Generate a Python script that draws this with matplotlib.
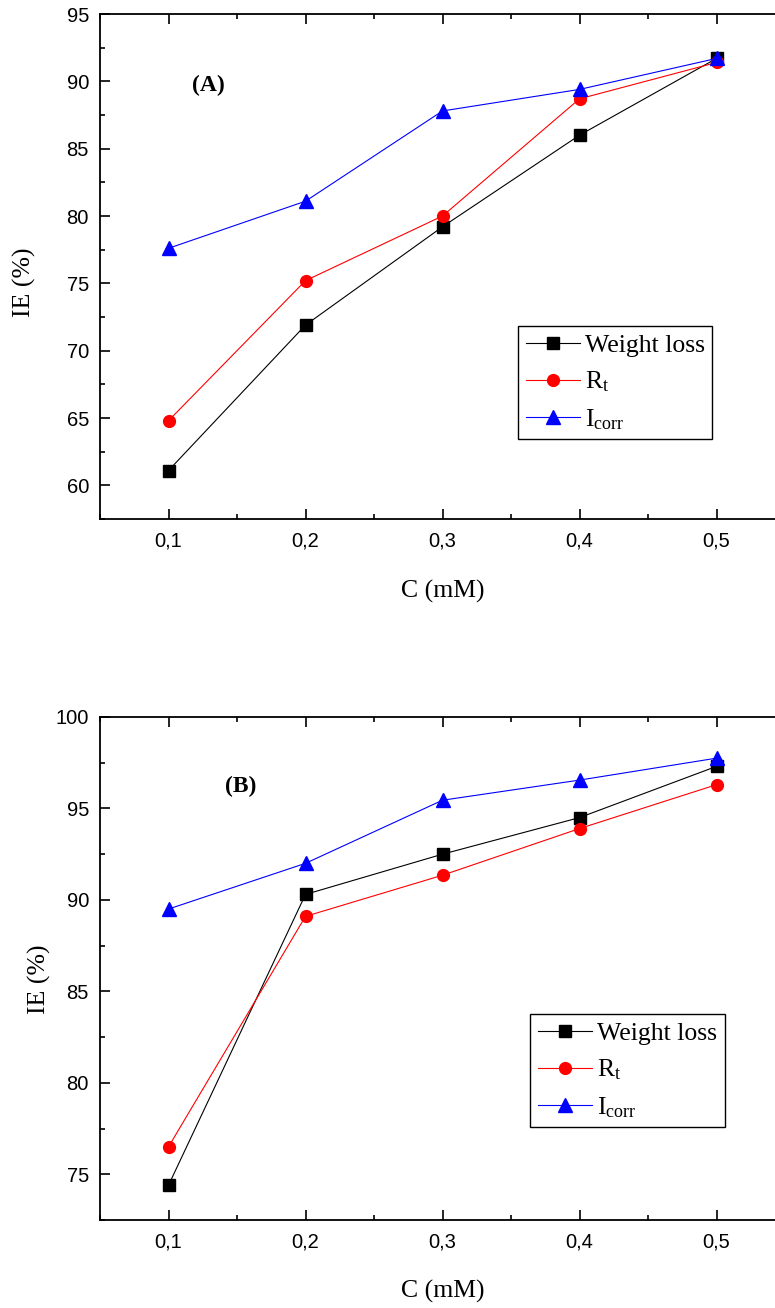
import matplotlib
matplotlib.use('Agg')
import matplotlib.pyplot as plt
from matplotlib.ticker import MultipleLocator

conc = [0.1, 0.2, 0.3, 0.4, 0.5]
conc_labels = ['0,1', '0,2', '0,3', '0,4', '0,5']

# panel (A)
wl_a = [61.1, 71.9, 79.2, 86.0, 91.7]
rt_a = [64.8, 75.2, 80.0, 88.7, 91.4]
icorr_a = [77.6, 81.1, 87.8, 89.4, 91.7]

# panel (B)
wl_b = [74.4, 90.3, 92.5, 94.5, 97.3]
rt_b = [76.5, 89.1, 91.35, 93.9, 96.3]
icorr_b = [89.5, 92.0, 95.45, 96.55, 97.75]

series_labels = ['Weight loss', r'$\mathregular{R_t}$', r'$\mathregular{I_{corr}}$']

plt.rcParams['mathtext.fontset'] = 'custom'
plt.rcParams['mathtext.rm'] = 'Liberation Serif'
plt.rcParams['mathtext.it'] = 'Liberation Serif:italic'

SERIF = 'Liberation Serif'
SANS = 'Liberation Sans'


def draw_panel(ax, wl, rt, icorr, ylim, yticks, tag, tag_pos, leg_pos, ylab_pos, xlab_y):
    ax.plot(conc, wl, '-s', color='black', lw=0.8, ms=8, label=series_labels[0])
    ax.plot(conc, rt, '-o', color='red', lw=0.8, ms=8.5, label=series_labels[1])
    ax.plot(conc, icorr, '-^', color='blue', lw=0.8, ms=10, label=series_labels[2])

    ax.set_xlim(0.05, 0.55)
    ax.set_ylim(*ylim)
    ax.set_xticks(conc)
    ax.set_xticklabels(conc_labels)
    ax.set_yticks(yticks)
    ax.xaxis.set_minor_locator(MultipleLocator(0.05))
    ax.yaxis.set_minor_locator(MultipleLocator(2.5))
    ax.tick_params(which='both', direction='in', top=True, right=True, width=1.2)
    ax.tick_params(which='major', length=7.2)
    ax.tick_params(which='minor', length=3.6)
    ax.tick_params(axis='x', which='major', pad=9)
    ax.tick_params(axis='y', which='major', pad=8)
    for lab in ax.get_xticklabels() + ax.get_yticklabels():
        lab.set_fontfamily(SANS)
        lab.set_fontsize(14.5)
    for sp in ax.spines.values():
        sp.set_linewidth(1.3)

    ax.set_xlabel('C (mM)', fontfamily=SERIF, fontsize=18.5)
    ax.set_ylabel('IE (%)', fontfamily=SERIF, fontsize=18.5)
    ax.xaxis.set_label_coords(0.5, xlab_y)
    ax.yaxis.set_label_coords(*ylab_pos)

    ax.text(tag_pos[0], tag_pos[1], tag, transform=ax.transAxes, ha='center', va='center',
            fontfamily=SERIF, fontweight='bold', fontsize=17)

    leg = ax.legend(loc='upper left', bbox_to_anchor=leg_pos, borderaxespad=0,
                    prop={'family': SERIF, 'size': 18.5}, fancybox=False, framealpha=1,
                    edgecolor='black', handlelength=2.1, handletextpad=0.2,
                    borderpad=0.3, labelspacing=0.5)
    leg.get_frame().set_linewidth(1.0)


def main():
    fig = plt.figure(figsize=(7.75, 13.08), dpi=100)
    ax_a = fig.add_axes([100 / 775, 1 - 519 / 1308, 685 / 775, 505 / 1308])
    ax_b = fig.add_axes([100 / 775, 1 - 1220 / 1308, 685 / 775, 503 / 1308])

    draw_panel(ax_a, wl_a, rt_a, icorr_a, (57.5, 95), [60, 65, 70, 75, 80, 85, 90, 95],
               '(A)', (0.158, 0.859), (0.610, 0.382), (-0.093, 0.469), -0.12)
    draw_panel(ax_b, wl_b, rt_b, icorr_b, (72.5, 100), [75, 80, 85, 90, 95, 100],
               '(B)', (0.205, 0.861), (0.628, 0.4095), (-0.071, 0.479), -0.12)

    fig.savefig('out.png', dpi=100)
    plt.close()


if __name__ == '__main__':
    main()
